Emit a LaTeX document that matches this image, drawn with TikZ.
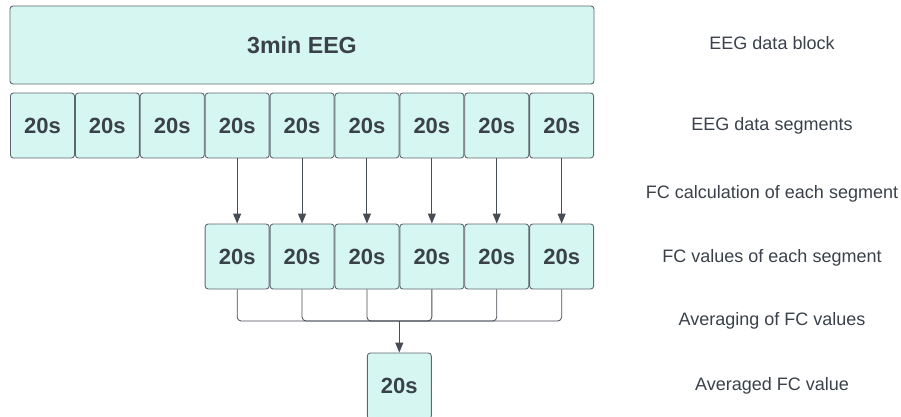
\documentclass[tikz,border=0pt]{standalone}
\usepackage{fontspec}
\setmainfont{Liberation Sans}
\usetikzlibrary{arrows.meta}
\definecolor{boxfill}{HTML}{D6F7F1}
\definecolor{boxdraw}{HTML}{5F6670}
\definecolor{txt}{HTML}{3A414A}
\definecolor{wire}{HTML}{474D55}
\tikzset{
  seg/.style={draw=boxdraw, fill=boxfill, line width=0.9pt, rounded corners=3pt,
    minimum width=64pt, minimum height=65pt, inner sep=0pt, text=txt,
    font=\fontsize{22}{25}\selectfont\bfseries},
  lbl/.style={text=txt, font=\fontsize{18}{21}\selectfont, inner sep=0pt},
  arr/.style={draw=wire, line width=1pt, -{Triangle[length=10pt,width=8pt]}},
  wirel/.style={draw=wire, line width=0.8pt, rounded corners=4pt}
}
\begin{document}
\begin{tikzpicture}[x=1pt,y=-1pt]
\useasboundingbox (0,0) rectangle (901,417);
\node[seg, minimum width=584pt, minimum height=78pt, font=\fontsize{23.2}{26}\selectfont\bfseries] (blk) at (302,45) {3min EEG};
\foreach \i in {0,...,8}{
  \node[seg] (s\i) at ({10+(\i+0.5)*64.9},125.5) {20s};
}
\foreach \i in {3,...,8}{
  \node[seg] (m\i) at ({10+(\i+0.5)*64.9},256.5) {20s};
  \draw[arr] (s\i.south) -- (m\i.north);
}
\node[seg, minimum height=66pt] (f) at (399.3,386) {20s};
\coordinate (j) at (399.3,321);
\foreach \i in {3,...,8}{
  \draw[wirel] (m\i.south) |- (j);
}
\draw[arr] (j) -- (f.north);
\node[lbl] (l1) at (772,43) {EEG data block};
\node[lbl] (l2) at (772,126) {EEG data segments};
\node[lbl] (l3) at (772,194) {FC calculation of each segment};
\node[lbl] (l4) at (772,258) {FC values of each segment};
\node[lbl] (l5) at (772,321) {Averaging of FC values};
\node[lbl] (l6) at (772,386) {Averaged FC value};
\end{tikzpicture}
\end{document}
